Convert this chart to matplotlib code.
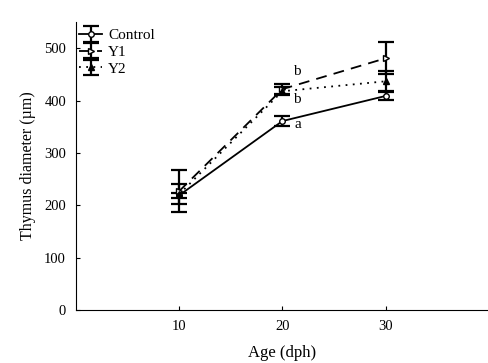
import numpy as np
import matplotlib
matplotlib.use("Agg")
import matplotlib.pyplot as plt

plt.rcParams['font.family'] = ['Liberation Serif', 'DejaVu Serif']

age = [10, 20, 30]

control = [219, 361, 409]
control_err = [5, 9, 8]

y1 = [227, 422, 481]
y1_err = [40, 10, 31]

y2 = [221, 418, 437]
y2_err = [19, 8, 19]

fig = plt.figure(figsize=(4.89, 3.63), dpi=100)
ax = fig.add_axes([0.155, 0.146, 0.845, 0.793])

kw = dict(color='black', ecolor='black', elinewidth=1.6, capsize=5.5, capthick=1.6,
          linewidth=1.3, markersize=4)
ax.errorbar(age, control, yerr=control_err, linestyle='-', marker='o',
            markerfacecolor='white', label='Control', **kw)
ax.errorbar(age, y1, yerr=y1_err, linestyle=(0, (6, 4)), marker='>',
            markerfacecolor='white', label='Y1', **kw)
ax.errorbar(age, y2, yerr=y2_err, linestyle=(0, (1, 3)), marker='^',
            markerfacecolor='black', label='Y2', **kw)

ax.text(21.4, 456, 'b', fontsize=11, ha='center', va='center')
ax.text(21.4, 403, 'b', fontsize=11, ha='center', va='center')
ax.text(21.5, 355, 'a', fontsize=11, ha='center', va='center')

ax.set_xlim(0, 40)
ax.set_ylim(0, 550)
ax.set_xticks([10, 20, 30])
ax.set_yticks([0, 100, 200, 300, 400, 500])
ax.tick_params(direction='in', length=3, labelsize=10.5)
ax.tick_params(axis='x', pad=7)
ax.tick_params(axis='y', pad=7)
for s in ['top', 'right']:
    ax.spines[s].set_visible(False)

ax.set_xlabel('Age (dph)', fontsize=12, labelpad=9)
ax.set_ylabel('Thymus diameter (\u00b5m)', fontsize=11.5, labelpad=6)

leg = ax.legend(loc='upper left', bbox_to_anchor=(-0.018, 1.015), frameon=False,
                fontsize=11, handlelength=1.5, handletextpad=0.4,
                labelspacing=0.2, borderaxespad=0.3)

fig.savefig('out.png', dpi=100)
